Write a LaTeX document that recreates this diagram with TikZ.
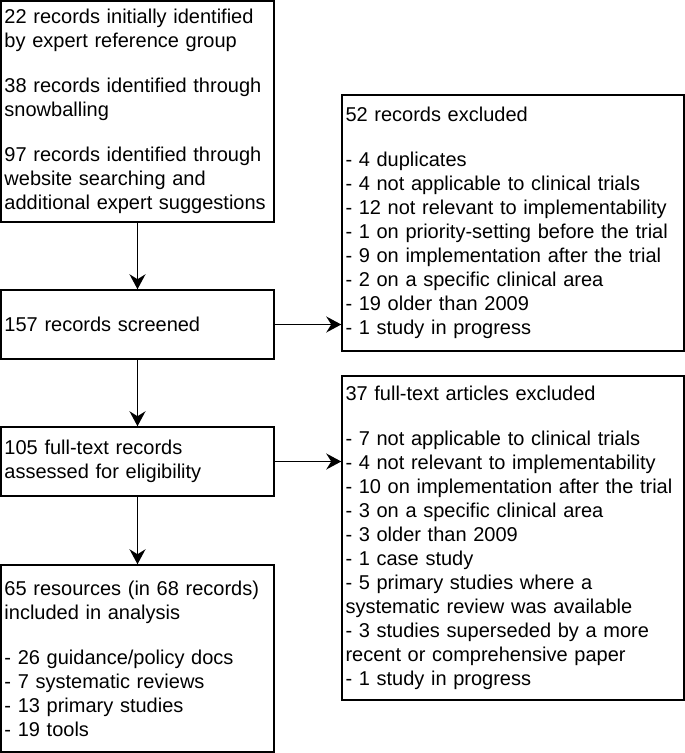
\documentclass[tikz,border=0pt]{standalone}
\usepackage{fontspec}
\setmainfont{Liberation Sans}
\usetikzlibrary{arrows.meta}
\hyphenpenalty=10000
\exhyphenpenalty=10000

\begin{document}
\begin{tikzpicture}[x=1pt, y=-1pt,
	box/.style={rectangle, draw, line width=1.5pt, align=left, inner xsep=3.5pt, inner ysep=0pt,
		font=\fontsize{20}{24}\selectfont},
	flow/.style={-{Stealth[length=15pt, width=16pt, inset=5pt]}, line width=1.5pt}]

\useasboundingbox (0, 0) rectangle (685, 753);

\node(1) [box, text width=266pt, minimum height=221pt] at (137.5, 111.5) {
	22 records initially identified\\
	by expert reference group\\[21pt]
	38 records identified through\\
	snowballing\\[21pt]
	97 records identified through\\
	website searching and\\
	additional expert suggestions
};

\node(2) [box, text width=266pt, minimum height=69pt] at (137.5, 324.5) {157 records screened};

\node(3) [box, text width=266pt, minimum height=69pt] at (137.5, 461.5) {
	105 full-text records\\
	assessed for eligibility
};

\node(4) [box, text width=266pt, minimum height=187pt] at (137.5, 658.5) {
	65 resources (in 68 records)\\
	included in analysis\\[21pt]
	- 26 guidance/policy docs\\
	- 7 systematic reviews\\
	- 13 primary studies\\
	- 19 tools
};

\node(5) [box, text width=335pt, minimum height=256pt] at (513, 223) {
	52 records excluded\\[21pt]
	- 4 duplicates\\
	- 4 not applicable to clinical trials\\
	- 12 not relevant to implementability\\
	- 1 on priority-setting before the trial\\
	- 9 on implementation after the trial\\
	- 2 on a specific clinical area\\
	- 19 older than 2009\\
	- 1 study in progress
};

\node(6) [box, text width=335pt, minimum height=324pt] at (513, 538) {
	37 full-text articles excluded\\[21pt]
	- 7 not applicable to clinical trials\\
	- 4 not relevant to implementability\\
	- 10 on implementation after the trial\\
	- 3 on a specific clinical area\\
	- 3 older than 2009\\
	- 1 case study\\
	- 5 primary studies where a\\
	systematic review was available\\
	- 3 studies superseded by a more\\
	recent or comprehensive paper\\
	- 1 study in progress
};

\draw [flow] (1) -- (2);
\draw [flow] (2) -- (3);
\draw [flow] (3) -- (4);
\draw [flow] (2) -- (2 -| 5.west);
\draw [flow] (3) -- (3 -| 6.west);

\end{tikzpicture}
\end{document}
